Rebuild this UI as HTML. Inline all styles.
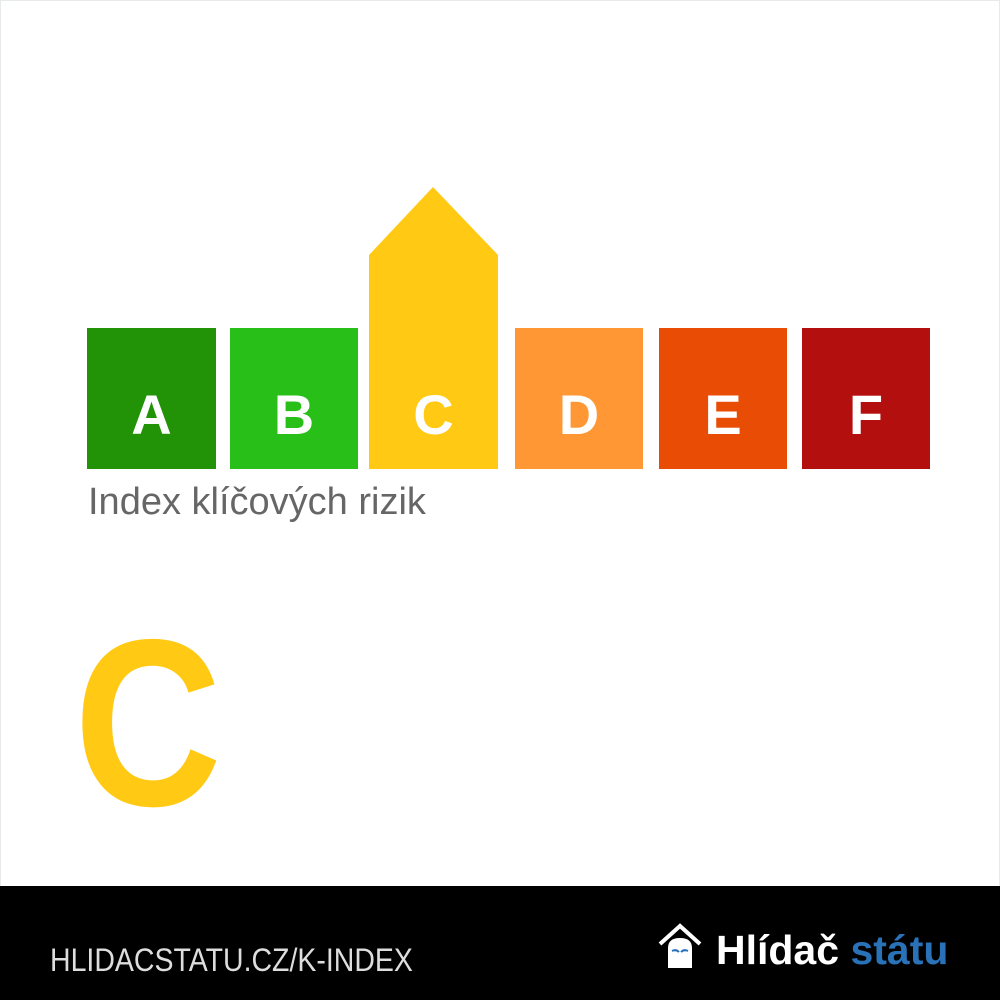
<!DOCTYPE html>
<html><head><meta charset="utf-8"><style>
body{margin:0;width:1000px;height:1000px;position:relative;background:#fff;font-family:"Liberation Sans",sans-serif;overflow:hidden}
.frame{position:absolute;left:0;top:0;width:998px;height:998px;border:1px solid #e6eaea}
.b{position:absolute;top:328px;height:141px;color:#fff;font-weight:bold;font-size:56px;display:flex;align-items:flex-end;justify-content:center;padding-bottom:26px;box-sizing:border-box;line-height:1}
.foot{position:absolute;left:0;top:886px;width:1000px;height:114px;background:#000}
</style></head><body>
<div class="frame"></div>
<div class="b" style="left:87px;width:129px;background:#229207">A</div>
<div class="b" style="left:230px;width:128px;background:#27bf18">B</div>
<svg style="position:absolute;left:369px;top:187px" width="129" height="282"><polygon points="0,68 64,0 129,68 129,282 0,282" fill="#ffc914"/></svg>
<div class="b" style="left:369px;width:129px;background:transparent">C</div>
<div class="b" style="left:515px;width:128px;background:#ff9734">D</div>
<div class="b" style="left:659px;width:128px;background:#e84c05">E</div>
<div class="b" style="left:802px;width:128px;background:#b40f0f">F</div>
<div style="position:absolute;left:88px;top:481px;font-size:38px;color:#666">Index klíčových rizik</div>
<div style="position:absolute;left:74px;top:605px;font-size:238px;font-weight:bold;color:#ffc914;line-height:1;transform:scaleX(0.86);transform-origin:left top">C</div>
<div class="foot">
<div style="position:absolute;left:50px;top:56px;font-size:32px;color:#ddd;transform:scaleX(0.89);transform-origin:left top">HLIDACSTATU.CZ/K-INDEX</div>
<svg style="position:absolute;left:656px;top:36px" width="50" height="50"><polyline points="4,22 24,4 44,22" fill="none" stroke="#fff" stroke-width="4"/><path d="M12,46 V26 Q12,16 24,16 Q36,16 36,26 V46 Z" fill="#fff"/><path d="M16,29 Q20,27 23,30 M25,30 Q28,27 32,29" stroke="#2a72b8" stroke-width="2" fill="none"/></svg>
<div style="position:absolute;left:716px;top:44px;font-size:41px;font-weight:bold;color:#fff;line-height:1">Hlídač <span style="color:#2a72b8">státu</span></div>
</div>
</body></html>
